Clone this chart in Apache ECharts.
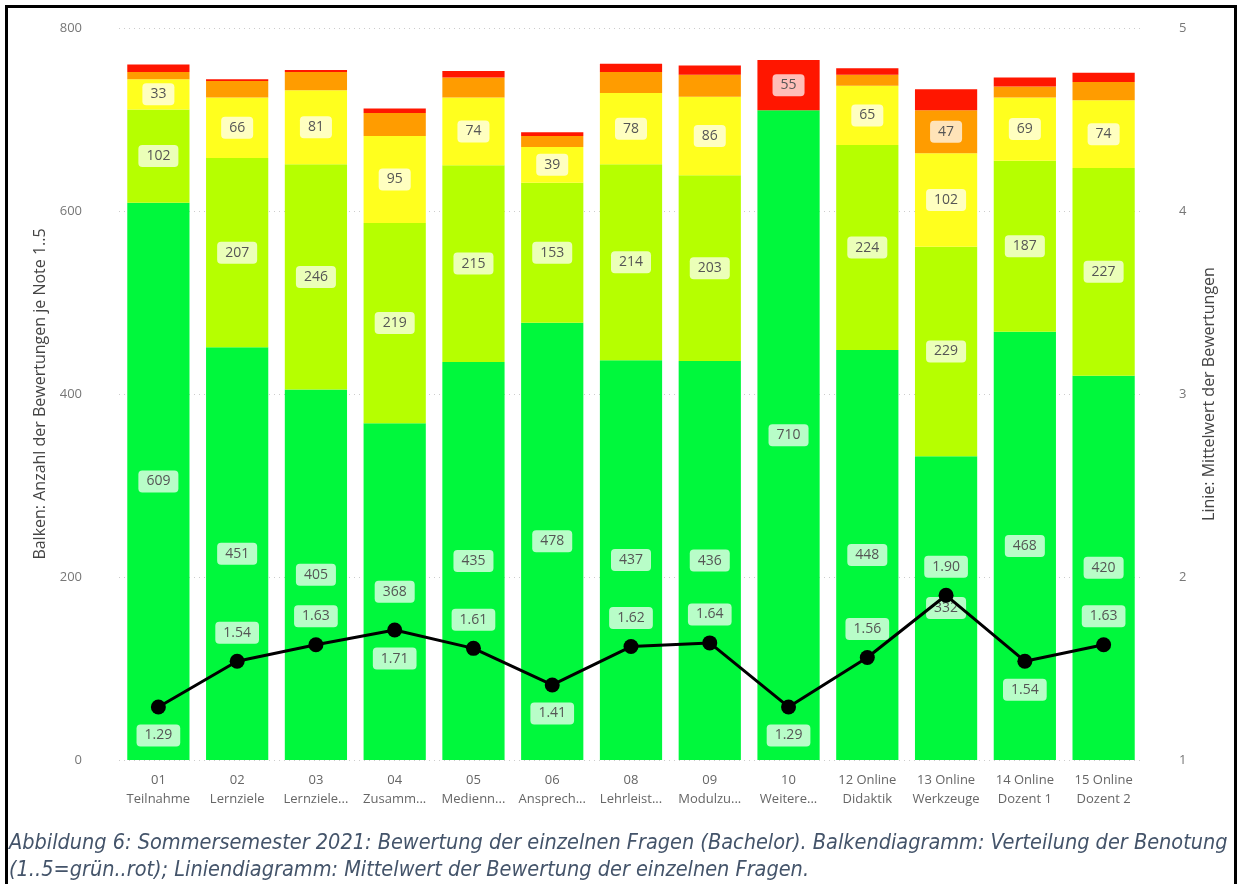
<!DOCTYPE html>
<html>
<head>
    <meta charset="utf-8">
    <title>Bewertung SoSe 2021</title>
    <script src="https://cdn.jsdelivr.net/npm/echarts@6/dist/echarts.min.js"></script>
    <style type="text/css">
        html, body {
            margin: 0;
            height: 100%;
            background: #fff;
        }
        #frame {
            position: absolute;
            left: 5px;
            top: 5px;
            width: 1226px;
            height: 884px;
            border: 3px solid #000;
            border-bottom: none;
        }
    </style>
</head>
<body>
<div id="frame"></div>
<div id="main" style="position:absolute;left:0;top:0;width:1240px;height:884px;"></div>
<script type="text/javascript">
    // Fragen
    var categories = ['01\nTeilnahme', '02\nLernziele', '03\nLernziele...', '04\nZusamm...', '05\nMedienn...',
        '06\nAnsprech...', '08\nLehrleist...', '09\nModulzu...', '10\nWeitere...', '12 Online\nDidaktik',
        '13 Online\nWerkzeuge', '14 Online\nDozent 1', '15 Online\nDozent 2'];

    // Anzahl der Bewertungen je Note
    var note1 = [609, 451, 405, 368, 435, 478, 437, 436, 710, 448, 332, 468, 420];
    var note2 = [102, 207, 246, 219, 215, 153, 214, 203, 0, 224, 229, 187, 227];
    var note3 = [33, 66, 81, 95, 74, 39, 78, 86, 0, 65, 102, 69, 74];
    var note4 = [8, 18, 20, 25, 22, 12, 23, 24, 0, 12, 47, 12, 20];
    var note5 = [8, 2, 2, 5, 7, 4, 9, 10, 55, 7, 23, 10, 10];

    // Mittelwert
    var mittelwert = [1.29, 1.54, 1.63, 1.71, 1.61, 1.41, 1.62, 1.64, 1.29, 1.56, 1.90, 1.54, 1.63];
    var labelUnten = [true, false, false, true, false, true, false, false, true, false, false, true, false];

    var farben = ['#00f83c', '#b6ff00', '#ffff1e', '#ff9c00', '#ff1600'];

    var myChart = echarts.init(document.getElementById('main'), null, {renderer: 'canvas'});

    var labelStil = {
        color: '#555',
        fontSize: 14,
        backgroundColor: 'rgba(255,255,255,0.72)',
        borderRadius: 4,
        padding: [4, 8]
    };

    function barSerie(name, werte, farbe) {
        return {
            name: name,
            type: 'bar',
            stack: 'noten',
            barCategoryGap: '21%',
            itemStyle: {color: farbe},
            label: Object.assign({position: 'inside'}, labelStil),
            data: werte.map(function (v) {
                return {value: v, label: {show: v >= 30}};
            })
        };
    }

    var option = {
        animation: false,
        textStyle: {fontFamily: 'Open Sans'},
        grid: {left: 119, right: 97, top: 28, bottom: 124},
        xAxis: {
            type: 'category',
            data: categories,
            axisLine: {show: false},
            axisTick: {show: false},
            axisLabel: {color: '#666', fontSize: 13, lineHeight: 19, margin: 11, interval: 0}
        },
        yAxis: [{
            type: 'value',
            min: 0,
            max: 800,
            interval: 200,
            name: 'Balken: Anzahl der Bewertungen je Note 1..5',
            nameLocation: 'middle',
            nameRotate: 90,
            nameGap: 66,
            nameTextStyle: {color: '#444', fontSize: 16},
            axisLabel: {color: '#777', fontSize: 13, margin: 37},
            splitLine: {lineStyle: {color: '#ccc', type: [1, 4]}}
        }, {
            type: 'value',
            min: 1,
            max: 5,
            interval: 1,
            name: 'Linie: Mittelwert der Bewertungen',
            nameLocation: 'middle',
            nameRotate: 90,
            nameGap: 58,
            nameTextStyle: {color: '#444', fontSize: 16},
            axisLabel: {color: '#777', fontSize: 13, margin: 36},
            splitLine: {show: false}
        }],
        series: [
            barSerie('1', note1, farben[0]),
            barSerie('2', note2, farben[1]),
            barSerie('3', note3, farben[2]),
            barSerie('4', note4, farben[3]),
            barSerie('5', note5, farben[4]),
            {
                name: 'Mittelwert',
                type: 'line',
                yAxisIndex: 1,
                z: 5,
                symbol: 'circle',
                symbolSize: 15,
                itemStyle: {color: '#000'},
                lineStyle: {color: '#000', width: 3},
                label: Object.assign({
                    show: true,
                    distance: 10,
                    formatter: function (p) { return p.value.toFixed(2); }
                }, labelStil),
                data: mittelwert.map(function (v, i) {
                    return {value: v, label: {position: labelUnten[i] ? 'bottom' : 'top'}};
                })
            }
        ],
        graphic: [{
            type: 'text',
            left: 9,
            top: 830,
            style: {
                text: 'Abbildung 6: Sommersemester 2021: Bewertung der einzelnen Fragen (Bachelor). Balkendiagramm: Verteilung der Benotung\n(1..5=grün..rot); Liniendiagramm: Mittelwert der Bewertung der einzelnen Fragen.',
                font: 'italic 21.5px "Liberation Sans Narrow", "DejaVu Sans Condensed", sans-serif',
                lineHeight: 27,
                fill: '#44546a'
            }
        }]
    };

    myChart.setOption(option);

    window.addEventListener("resize", function () {
        myChart.resize();
    });
</script>
</body>
</html>
